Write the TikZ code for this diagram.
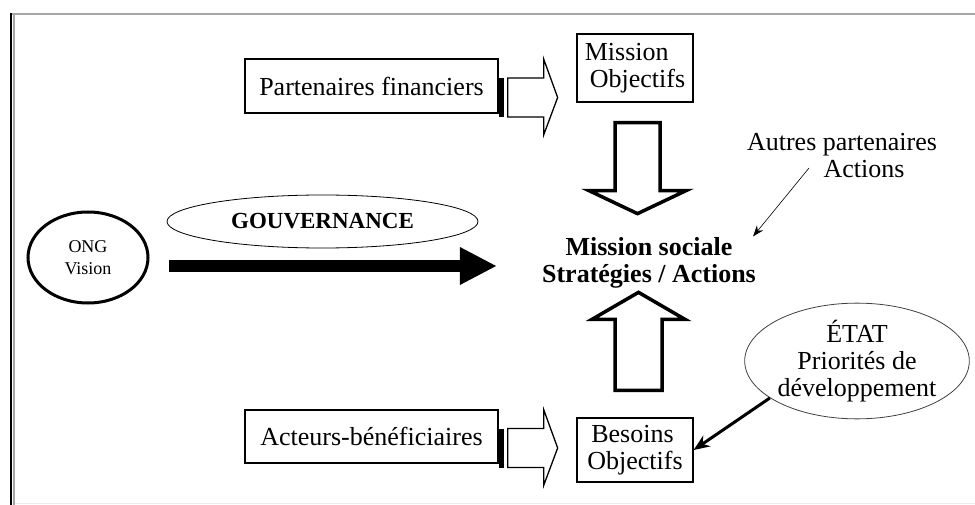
\documentclass[tikz,border=0pt]{standalone}
\usepackage{fontspec}
\setmainfont{Liberation Serif}
\usetikzlibrary{arrows.meta,shapes}

\begin{document}
\begin{tikzpicture}[x=1pt,y=-1pt,>=Stealth,
        txt/.style={font=\fontsize{26}{27}\selectfont,align=center,inner sep=1pt},
        box/.style={txt,draw=black,line width=1.3pt,rectangle},
        oval/.style={ellipse,draw=black,inner sep=0pt,align=center},
        hollow/.style={draw=black,line width=3.5pt,fill=white,line join=miter},
        striped/.style={draw=black,line width=1.3pt,fill=white,line join=miter}]
        \useasboundingbox (0,0) rectangle (975,505);
        \draw[gray!70,line width=2.5pt] (10,14) -- (975,14);
        \draw[black,line width=2pt] (11,13) -- (11,505);
        \draw[gray!70,line width=1.5pt] (14,15) -- (14,505);
        \draw[gray!15,line width=1pt] (15,503) -- (975,503);

        \node[box,minimum width=253pt,minimum height=54pt] (pf) at (371.5,86) {Partenaires financiers};
        \node[box,minimum width=253pt,minimum height=53pt] (ab) at (371.5,436.5) {Acteurs-bénéficiaires};
        \node[box,align=left,minimum width=116pt,minimum height=68pt] (mo) at (635,68) {Mission\\\hspace*{5pt}Objectifs};
        \node[box,align=left,minimum width=116pt,minimum height=64pt] (bo) at (635,450) {\hspace*{4pt}Besoins\\Objectifs};
        \node[txt,font=\bfseries\fontsize{26}{27}\selectfont] (ms) at (649,263) {Mission sociale\\Stratégies / Actions};
        \node[txt] (ap) at (842,156) {Autres partenaires\\\hspace*{44pt}Actions};
        \node[oval,line width=3pt,minimum width=120pt,minimum height=91pt,font=\fontsize{18}{22}\selectfont] (ong) at (88,257.5) {ONG\\Vision};
        \node[oval,line width=0.8pt,minimum width=311pt,minimum height=53pt,font=\bfseries\fontsize{23}{27}\selectfont] (gv) at (322.5,221.5) {GOUVERNANCE};
        \node[oval,draw=black!75,line width=0.8pt,minimum width=215pt,minimum height=108pt,font=\fontsize{26}{27}\selectfont] (et) at (857,361) {ÉTAT\\Priorités de\\développement};

        \foreach \n in {pf,ab} {
          \fill ([shift={(0,-8)}]\n.east) rectangle ++(5,39);
          \draw[striped] ([shift={(9,-8)}]\n.east) -- ++(36,0) -- ++(0,-19) -- ++(14,38.5)
            -- ++(-14,37.5) -- ++(0,-18) -- ++(-36,0) -- cycle;
        }
        \draw[hollow] ([shift={(-20,20)}]mo.south) -- ++(0,68) -- ++(-26,0) -- ++(48.5,23)
          -- ++(48.5,-23) -- ++(-26,0) -- ++(0,-68) -- cycle;
        \draw[hollow] ([shift={(-20,-27)}]bo.north) -- ++(0,-71) -- ++(-23,0) -- ++(46.5,-27)
          -- ++(46.5,27) -- ++(-23,0) -- ++(0,71) -- cycle;

        \draw[line width=12pt,-{Triangle[length=37pt,width=35pt]}] ([shift={(19,8.5)}]ong.east) -- ([shift={(-44,3)}]ms.west);
        \draw[line width=0.6pt,-{Stealth[length=11pt,width=8pt]}] ([shift={(-33,12)}]ap.center) -- ([shift={(-4,0)}]ms.north east);
        \draw[line width=3pt,-{Stealth[length=16pt,width=13pt]}] (et.203) -- (bo.east);
      \end{tikzpicture}
\end{document}
